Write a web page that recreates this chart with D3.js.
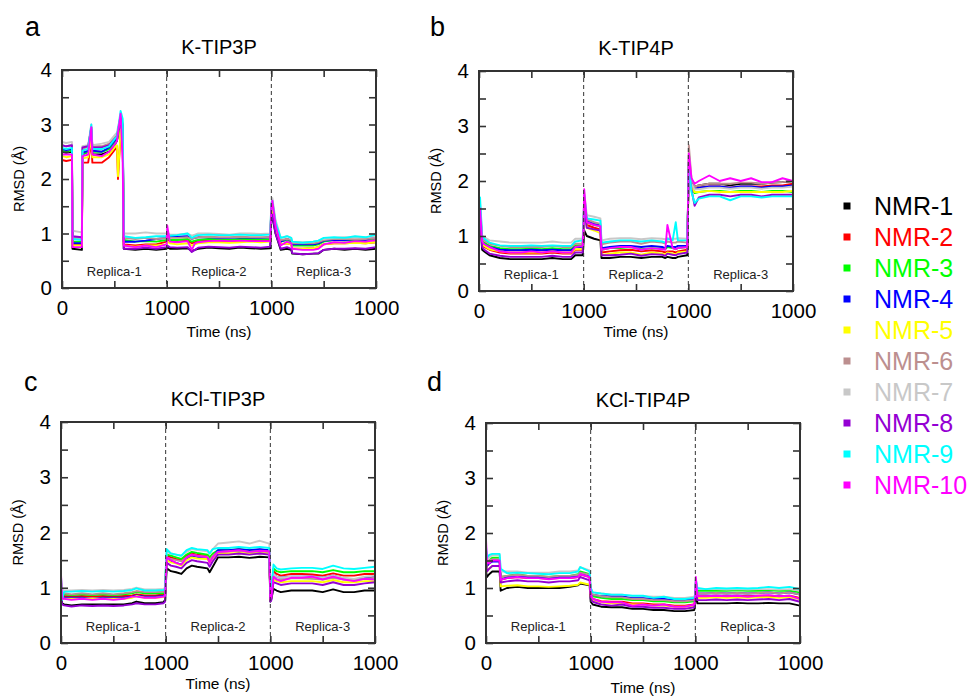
<!DOCTYPE html>
<html>
<head>
<meta charset="utf-8">
<script src="https://cdn.jsdelivr.net/npm/d3@7.9.0/dist/d3.min.js"></script>
<style>
  body { margin: 0; background: #fff; }
  svg { font-family: "Liberation Sans", Arial, sans-serif; }
</style>
</head>
<body>
<svg id="chart" width="971" height="696"></svg>
<script>
// Series names and xmgrace colours
const seriesNames = ['NMR-1', 'NMR-2', 'NMR-3', 'NMR-4', 'NMR-5', 'NMR-6', 'NMR-7', 'NMR-8', 'NMR-9', 'NMR-10'];
const seriesColors = ['#000000', '#ff0000', '#00ff00', '#0000ff', '#ffff00', '#bc8f8f', '#c8c8c8', '#9400d3', '#00ffff', '#ff00ff'];
const replicaLabels = ['Replica-1', 'Replica-2', 'Replica-3'];
// three 1000 ns replicas laid end to end
const xTickValues = [0, 500, 1000, 1500, 2000, 2500, 3000];
const xTickLabels = ['0', '', '1000', '', '1000', '', '1000'];
const yTickValues = [0, 0.5, 1, 1.5, 2, 2.5, 3, 3.5, 4];

// Panel a: K-TIP3P
const timeA = [0, 40, 95, 100, 190, 195, 250, 280, 290, 380, 450, 510, 525, 535, 560, 580, 590, 700, 800, 900,
  1000, 1005, 1030, 1100, 1200, 1240, 1270, 1300, 1400, 1500, 1600, 1700, 1800, 1900, 1990,
  2000, 2010, 2040, 2090, 2150, 2190, 2200, 2300, 2400, 2450, 2500, 2600, 2700, 2800, 2900, 3000];
const rmsdA = [
  [2.5, 2.48, 2.5, 0.72, 0.7, 2.45, 2.5, 2.85, 2.45, 2.45, 2.5, 2.65, 2.7, 2.8, 3.05, 2.95, 0.72, 0.7, 0.72, 0.7,
   0.72, 0.75, 0.72, 0.72, 0.73, 0.68, 0.7, 0.72, 0.74, 0.73, 0.72, 0.74, 0.73, 0.72, 0.73,
   1.35, 1.3, 1.0, 0.7, 0.72, 0.7, 0.63, 0.62, 0.63, 0.63, 0.7, 0.72, 0.7, 0.72, 0.7, 0.72],
  [2.35, 2.33, 2.35, 0.8, 0.8, 2.3, 2.3, 2.7, 2.3, 2.3, 2.4, 2.55, 2.6, 2.0, 2.85, 2.7, 0.8, 0.78, 0.8, 0.8,
   0.85, 0.9, 0.86, 0.85, 0.87, 0.82, 0.84, 0.86, 0.87, 0.86, 0.85, 0.87, 0.88, 0.87, 0.87,
   1.4, 1.45, 1.1, 0.8, 0.82, 0.8, 0.72, 0.72, 0.73, 0.75, 0.8, 0.82, 0.82, 0.83, 0.82, 0.84],
  [2.52, 2.5, 2.52, 0.85, 0.85, 2.45, 2.5, 2.85, 2.5, 2.5, 2.55, 2.7, 2.72, 2.8, 3.0, 2.9, 0.88, 0.85, 0.86, 0.85,
   0.88, 0.92, 0.88, 0.88, 0.9, 0.85, 0.87, 0.88, 0.9, 0.89, 0.88, 0.9, 0.9, 0.89, 0.9,
   1.45, 1.5, 1.15, 0.85, 0.88, 0.85, 0.78, 0.78, 0.78, 0.8, 0.85, 0.88, 0.87, 0.88, 0.87, 0.9],
  [2.55, 2.53, 2.55, 0.82, 0.82, 2.48, 2.52, 2.9, 2.52, 2.5, 2.58, 2.72, 2.75, 2.85, 3.05, 2.95, 0.85, 0.85, 0.87, 0.9,
   0.92, 0.95, 0.95, 0.94, 0.95, 0.9, 0.92, 0.93, 0.93, 0.92, 0.92, 0.93, 0.92, 0.92, 0.93,
   1.45, 1.5, 1.15, 0.85, 0.9, 0.87, 0.8, 0.8, 0.8, 0.82, 0.87, 0.88, 0.88, 0.9, 0.88, 0.95],
  [2.42, 2.4, 2.42, 0.78, 0.78, 2.38, 2.4, 2.75, 2.4, 2.4, 2.45, 2.6, 2.62, 2.05, 2.9, 2.8, 0.78, 0.76, 0.78, 0.78,
   0.8, 0.85, 0.82, 0.8, 0.82, 0.78, 0.8, 0.82, 0.84, 0.84, 0.83, 0.84, 0.85, 0.84, 0.85,
   1.4, 1.45, 1.1, 0.8, 0.82, 0.8, 0.72, 0.72, 0.73, 0.75, 0.8, 0.82, 0.82, 0.83, 0.82, 0.84],
  [2.62, 2.6, 2.62, 0.92, 0.92, 2.55, 2.6, 2.95, 2.6, 2.6, 2.65, 2.78, 2.8, 2.9, 3.1, 3.0, 0.92, 0.9, 0.92, 0.9,
   0.92, 0.96, 0.92, 0.92, 0.93, 0.9, 0.92, 0.93, 0.94, 0.93, 0.93, 0.94, 0.93, 0.93, 0.93,
   1.5, 1.55, 1.2, 0.88, 0.9, 0.88, 0.82, 0.82, 0.82, 0.84, 0.88, 0.9, 0.9, 0.9, 0.9, 0.92],
  [2.68, 2.66, 2.68, 1.05, 1.02, 2.6, 2.62, 3.0, 2.62, 2.65, 2.68, 2.82, 2.85, 2.95, 3.15, 3.05, 1.0, 1.0, 1.02, 1.0,
   1.0, 1.02, 0.98, 0.98, 1.0, 0.96, 0.98, 1.0, 1.0, 0.99, 0.98, 1.0, 1.0, 0.99, 1.0,
   1.55, 1.65, 1.25, 0.92, 0.95, 0.92, 0.85, 0.84, 0.85, 0.87, 0.9, 0.92, 0.93, 0.92, 0.93, 0.95],
  [2.62, 2.6, 2.62, 0.95, 0.93, 2.58, 2.6, 2.95, 2.58, 2.58, 2.62, 2.75, 2.78, 2.88, 3.15, 3.0, 0.72, 0.72, 0.74, 0.72,
   0.75, 0.78, 0.75, 0.74, 0.75, 0.66, 0.7, 0.74, 0.76, 0.75, 0.74, 0.76, 0.75, 0.74, 0.76,
   1.3, 1.35, 1.0, 0.72, 0.75, 0.72, 0.64, 0.62, 0.63, 0.64, 0.7, 0.72, 0.72, 0.73, 0.72, 0.75],
  [2.57, 2.55, 2.57, 0.9, 0.88, 2.52, 2.55, 3.0, 2.55, 2.55, 2.6, 2.75, 2.78, 2.9, 3.25, 3.1, 0.95, 0.92, 0.93, 0.95,
   0.95, 0.98, 0.96, 0.97, 1.0, 0.92, 0.95, 0.97, 0.98, 0.97, 0.97, 0.98, 0.97, 0.97, 0.98,
   1.55, 1.6, 1.2, 0.92, 0.95, 0.92, 0.85, 0.83, 0.85, 0.87, 0.92, 0.93, 0.92, 0.95, 0.93, 0.98],
  [2.45, 2.45, 2.45, 0.75, 0.75, 2.42, 2.45, 2.95, 2.45, 2.42, 2.5, 2.65, 2.7, 2.85, 3.2, 2.3, 0.78, 0.75, 0.78, 0.75,
   0.8, 1.15, 0.85, 0.84, 0.86, 0.7, 0.82, 0.84, 0.86, 0.87, 0.86, 0.87, 0.86, 0.86, 0.86,
   1.5, 1.6, 1.15, 0.78, 0.85, 0.82, 0.72, 0.7, 0.7, 0.72, 0.8, 0.84, 0.83, 0.86, 0.85, 0.88]
];

// Panel b: K-TIP4P
const timeB = [0, 10, 30, 50, 100, 200, 300, 400, 500, 600, 700, 800, 880, 920, 990,
  1000, 1005, 1030, 1100, 1160, 1170, 1250, 1350, 1450, 1550, 1650, 1750, 1780, 1800, 1850, 1880, 1900, 1990,
  2000, 2005, 2030, 2060, 2100, 2200, 2300, 2400, 2500, 2600, 2700, 2800, 2900, 3000];
const rmsdB = [
  [1.1, 1.3, 0.75, 0.72, 0.65, 0.6, 0.58, 0.58, 0.58, 0.58, 0.6, 0.58, 0.58, 0.65, 0.65,
   0.9, 1.1, 1.0, 0.95, 0.92, 0.6, 0.6, 0.62, 0.62, 0.6, 0.62, 0.62, 0.6, 0.62, 0.6, 0.6, 0.62, 0.65,
   1.9, 2.4, 2.0, 1.9, 1.92, 1.95, 1.95, 1.92, 1.95, 1.95, 1.95, 1.97, 1.98, 2.0],
  [1.4, 1.5, 0.85, 0.8, 0.75, 0.7, 0.68, 0.68, 0.68, 0.68, 0.7, 0.68, 0.68, 0.75, 0.75,
   1.2, 1.5, 1.2, 1.15, 1.12, 0.7, 0.72, 0.74, 0.75, 0.72, 0.74, 0.72, 0.7, 0.72, 0.72, 0.7, 0.72, 0.75,
   1.85, 2.3, 1.95, 1.85, 1.88, 1.9, 1.9, 1.88, 1.9, 1.9, 1.9, 1.92, 1.92, 1.95],
  [1.4, 1.5, 0.9, 0.88, 0.82, 0.78, 0.76, 0.76, 0.77, 0.76, 0.78, 0.76, 0.76, 0.83, 0.83,
   1.25, 1.6, 1.25, 1.2, 1.18, 0.75, 0.78, 0.78, 0.8, 0.76, 0.78, 0.77, 0.76, 0.8, 0.78, 0.76, 0.78, 0.8,
   1.85, 2.3, 1.9, 1.78, 1.8, 1.82, 1.82, 1.8, 1.82, 1.82, 1.8, 1.82, 1.82, 1.8],
  [1.35, 1.45, 0.88, 0.85, 0.8, 0.75, 0.74, 0.74, 0.75, 0.74, 0.75, 0.74, 0.74, 0.8, 0.8,
   1.3, 1.65, 1.28, 1.22, 1.2, 0.78, 0.8, 0.82, 0.82, 0.8, 0.82, 0.8, 0.78, 0.82, 0.8, 0.8, 0.82, 0.82,
   1.85, 2.35, 1.95, 1.85, 1.88, 1.9, 1.9, 1.88, 1.9, 1.9, 1.88, 1.9, 1.9, 1.92],
  [1.3, 1.45, 0.85, 0.82, 0.76, 0.72, 0.7, 0.7, 0.7, 0.7, 0.72, 0.7, 0.7, 0.76, 0.76,
   1.15, 1.5, 1.15, 1.1, 1.05, 0.65, 0.68, 0.7, 0.7, 0.66, 0.7, 0.68, 0.66, 0.7, 0.68, 0.66, 0.7, 0.72,
   1.8, 2.3, 1.9, 1.8, 1.8, 1.82, 1.8, 1.8, 1.8, 1.8, 1.8, 1.8, 1.8, 1.82],
  [1.45, 1.55, 0.95, 0.92, 0.86, 0.82, 0.8, 0.8, 0.8, 0.8, 0.82, 0.8, 0.8, 0.86, 0.86,
   1.3, 1.7, 1.3, 1.25, 1.22, 0.85, 0.88, 0.9, 0.9, 0.86, 0.9, 0.88, 0.86, 0.9, 0.88, 0.88, 0.9, 0.88,
   1.9, 2.65, 2.05, 1.9, 1.92, 1.95, 1.95, 1.95, 1.97, 1.97, 1.95, 1.97, 1.98, 2.0],
  [1.5, 1.6, 1.0, 0.98, 0.92, 0.9, 0.88, 0.88, 0.88, 0.88, 0.9, 0.88, 0.88, 0.95, 0.95,
   1.38, 1.8, 1.38, 1.35, 1.32, 0.92, 0.95, 0.96, 0.96, 0.94, 0.96, 0.95, 0.94, 0.96, 0.95, 0.95, 0.96, 0.95,
   1.85, 2.5, 1.95, 1.85, 1.85, 1.88, 1.88, 1.86, 1.88, 1.88, 1.86, 1.88, 1.88, 1.9],
  [1.2, 1.35, 0.8, 0.75, 0.68, 0.64, 0.62, 0.62, 0.62, 0.62, 0.64, 0.62, 0.62, 0.7, 0.7,
   1.1, 1.5, 1.15, 1.12, 1.1, 0.65, 0.65, 0.66, 0.68, 0.64, 0.67, 0.66, 0.64, 0.68, 0.66, 0.65, 0.67, 0.7,
   1.8, 2.2, 1.85, 1.55, 1.7, 1.75, 1.75, 1.72, 1.75, 1.75, 1.72, 1.75, 1.75, 1.75],
  [1.6, 1.7, 1.0, 0.95, 0.88, 0.83, 0.82, 0.82, 0.83, 0.82, 0.83, 0.82, 0.82, 0.9, 0.92,
   1.3, 1.75, 1.32, 1.3, 1.28, 0.88, 0.9, 0.92, 0.92, 0.9, 0.92, 0.9, 0.88, 0.95, 0.92, 1.25, 0.92, 0.92,
   1.85, 2.3, 1.8, 1.6, 1.68, 1.72, 1.72, 1.65, 1.72, 1.72, 1.7, 1.72, 1.72, 1.72],
  [1.45, 1.5, 0.9, 0.85, 0.8, 0.72, 0.7, 0.7, 0.72, 0.7, 0.72, 0.7, 0.7, 0.8, 0.82,
   1.25, 1.85, 1.25, 1.2, 1.18, 0.75, 0.78, 0.8, 0.8, 0.75, 0.78, 0.76, 0.75, 1.2, 0.78, 0.76, 0.78, 0.8,
   1.9, 2.5, 2.05, 1.95, 2.0, 2.1, 2.0, 2.05, 2.0, 2.05, 1.98, 1.98, 2.05, 2.0]
];

// Panel c: KCl-TIP3P
const timeC = [0, 10, 30, 100, 200, 300, 400, 500, 600, 680, 720, 800, 900, 980, 995,
  1000, 1010, 1050, 1100, 1150, 1200, 1250, 1300, 1400, 1420, 1450, 1500, 1600, 1700, 1800, 1900, 1990,
  2000, 2010, 2030, 2060, 2100, 2200, 2300, 2400, 2500, 2600, 2700, 2800, 2900, 3000];
const rmsdC = [
  [0.9, 0.72, 0.7, 0.68, 0.7, 0.7, 0.7, 0.7, 0.7, 0.72, 0.75, 0.72, 0.72, 0.74, 0.78,
   1.0, 1.35, 1.3, 1.28, 1.25, 1.35, 1.4, 1.38, 1.35, 1.28, 1.38, 1.55, 1.55, 1.56, 1.54, 1.56, 1.55,
   0.75, 0.8, 0.98, 0.95, 0.92, 0.95, 0.95, 0.95, 0.92, 0.97, 0.92, 0.92, 0.95, 0.95],
  [1.1, 0.88, 0.85, 0.84, 0.85, 0.84, 0.85, 0.84, 0.85, 0.86, 0.88, 0.86, 0.86, 0.88, 0.9,
   1.2, 1.58, 1.55, 1.52, 1.5, 1.58, 1.62, 1.6, 1.58, 1.52, 1.6, 1.65, 1.66, 1.67, 1.65, 1.66, 1.65,
   0.85, 0.9, 1.3, 1.25, 1.22, 1.25, 1.25, 1.24, 1.22, 1.26, 1.22, 1.22, 1.25, 1.25],
  [1.1, 0.9, 0.88, 0.87, 0.88, 0.87, 0.88, 0.87, 0.88, 0.9, 0.92, 0.9, 0.9, 0.9, 0.92,
   1.25, 1.6, 1.58, 1.55, 1.52, 1.6, 1.65, 1.63, 1.6, 1.55, 1.62, 1.68, 1.68, 1.7, 1.68, 1.69, 1.68,
   0.9, 0.95, 1.35, 1.3, 1.28, 1.3, 1.3, 1.3, 1.28, 1.32, 1.28, 1.28, 1.3, 1.3],
  [1.0, 0.85, 0.82, 0.82, 0.82, 0.8, 0.82, 0.82, 0.82, 0.84, 0.86, 0.84, 0.84, 0.85, 0.88,
   1.15, 1.5, 1.48, 1.45, 1.42, 1.52, 1.58, 1.56, 1.55, 1.48, 1.56, 1.68, 1.68, 1.7, 1.68, 1.7, 1.68,
   0.8, 0.85, 1.25, 1.2, 1.18, 1.2, 1.2, 1.2, 1.18, 1.22, 1.17, 1.15, 1.18, 1.2],
  [1.0, 0.82, 0.8, 0.8, 0.8, 0.8, 0.8, 0.8, 0.8, 0.82, 0.85, 0.82, 0.82, 0.83, 0.86,
   1.15, 1.5, 1.46, 1.44, 1.4, 1.5, 1.55, 1.53, 1.52, 1.45, 1.53, 1.62, 1.62, 1.63, 1.62, 1.63, 1.62,
   0.78, 0.82, 1.15, 1.12, 1.1, 1.12, 1.12, 1.12, 1.1, 1.14, 1.1, 1.1, 1.12, 1.12],
  [1.15, 0.92, 0.9, 0.88, 0.9, 0.88, 0.9, 0.88, 0.9, 0.92, 0.94, 0.92, 0.92, 0.93, 0.95,
   1.2, 1.55, 1.52, 1.5, 1.48, 1.55, 1.6, 1.58, 1.56, 1.5, 1.58, 1.65, 1.66, 1.67, 1.65, 1.66, 1.65,
   0.82, 0.88, 1.2, 1.15, 1.15, 1.17, 1.17, 1.16, 1.15, 1.18, 1.15, 1.14, 1.16, 1.18],
  [1.2, 0.97, 0.95, 0.95, 0.96, 0.95, 0.96, 0.95, 0.96, 0.98, 1.0, 0.97, 0.97, 0.98, 1.0,
   1.3, 1.65, 1.62, 1.6, 1.58, 1.65, 1.7, 1.68, 1.66, 1.62, 1.7, 1.8, 1.82, 1.84, 1.8, 1.85, 1.8,
   0.85, 0.9, 1.25, 1.2, 1.18, 1.2, 1.2, 1.2, 1.18, 1.22, 1.18, 1.16, 1.2, 1.22],
  [0.85, 0.7, 0.68, 0.66, 0.68, 0.67, 0.68, 0.67, 0.68, 0.7, 0.72, 0.7, 0.7, 0.72, 0.75,
   1.1, 1.45, 1.4, 1.38, 1.35, 1.45, 1.5, 1.48, 1.45, 1.38, 1.48, 1.6, 1.6, 1.62, 1.6, 1.62, 1.6,
   0.75, 0.78, 1.1, 1.08, 1.05, 1.08, 1.08, 1.08, 1.05, 1.1, 1.05, 1.05, 1.08, 1.1],
  [1.2, 0.78, 0.93, 0.93, 0.94, 0.93, 0.94, 0.93, 0.94, 0.96, 0.99, 0.95, 0.95, 0.96, 0.98,
   1.3, 1.7, 1.62, 1.6, 1.58, 1.68, 1.72, 1.7, 1.68, 1.62, 1.7, 1.72, 1.72, 1.74, 1.72, 1.74, 1.72,
   0.9, 0.95, 1.42, 1.35, 1.33, 1.35, 1.36, 1.36, 1.34, 1.4, 1.35, 1.34, 1.36, 1.38],
  [1.25, 0.8, 0.8, 0.78, 0.8, 0.78, 0.8, 0.78, 0.8, 0.84, 0.84, 0.82, 0.82, 0.84, 0.86,
   1.15, 1.55, 1.5, 1.45, 1.42, 1.55, 1.6, 1.58, 1.55, 1.45, 1.55, 1.65, 1.66, 1.68, 1.65, 1.67, 1.66,
   0.8, 0.85, 1.2, 1.15, 1.12, 1.18, 1.18, 1.2, 1.15, 1.2, 1.15, 1.12, 1.16, 1.15]
];

// Panel d: KCl-TIP4P
const timeD = [0, 10, 30, 60, 110, 130, 140, 200, 300, 400, 500, 600, 700, 800, 880, 900, 990,
  1000, 1020, 1100, 1200, 1300, 1400, 1500, 1600, 1700, 1800, 1900, 1990,
  2000, 2005, 2020, 2100, 2200, 2300, 2400, 2500, 2600, 2700, 2800, 2900, 3000];
const rmsdD = [
  [1.3, 1.2, 1.25, 1.3, 1.3, 1.3, 0.95, 1.0, 1.02, 1.0, 1.0, 1.0, 1.0, 1.02, 1.05, 1.08, 1.05,
   0.75, 0.7, 0.66, 0.65, 0.65, 0.62, 0.62, 0.6, 0.6, 0.58, 0.58, 0.6,
   0.75, 1.0, 0.72, 0.72, 0.72, 0.72, 0.73, 0.72, 0.72, 0.73, 0.72, 0.72, 0.68],
  [1.6, 1.4, 1.45, 1.5, 1.5, 1.5, 1.15, 1.18, 1.2, 1.18, 1.18, 1.17, 1.18, 1.18, 1.2, 1.25, 1.2,
   0.85, 0.8, 0.76, 0.75, 0.75, 0.72, 0.72, 0.7, 0.7, 0.68, 0.68, 0.7,
   0.82, 1.05, 0.85, 0.85, 0.86, 0.85, 0.86, 0.85, 0.86, 0.86, 0.85, 0.86, 0.82],
  [1.7, 1.5, 1.5, 1.55, 1.55, 1.55, 1.2, 1.22, 1.25, 1.22, 1.22, 1.2, 1.22, 1.22, 1.25, 1.3, 1.25,
   0.9, 0.85, 0.82, 0.8, 0.8, 0.78, 0.78, 0.76, 0.76, 0.74, 0.74, 0.76,
   0.85, 1.1, 0.95, 0.95, 0.95, 0.95, 0.96, 0.95, 0.95, 0.96, 0.95, 0.95, 0.92],
  [1.6, 1.4, 1.45, 1.48, 1.48, 1.48, 1.15, 1.2, 1.22, 1.2, 1.2, 1.18, 1.2, 1.2, 1.22, 1.28, 1.22,
   0.95, 0.88, 0.85, 0.85, 0.85, 0.82, 0.82, 0.8, 0.8, 0.78, 0.78, 0.8,
   0.85, 1.1, 0.9, 0.9, 0.91, 0.9, 0.91, 0.9, 0.91, 0.92, 0.9, 0.92, 0.88],
  [1.5, 1.3, 1.35, 1.4, 1.4, 1.4, 1.03, 1.04, 1.05, 1.03, 1.03, 1.02, 1.03, 1.04, 1.06, 1.1, 1.06,
   0.85, 0.78, 0.74, 0.72, 0.72, 0.7, 0.7, 0.68, 0.68, 0.66, 0.66, 0.68,
   0.8, 1.05, 0.82, 0.82, 0.83, 0.82, 0.83, 0.82, 0.83, 0.83, 0.82, 0.83, 0.8],
  [1.65, 1.45, 1.5, 1.52, 1.52, 1.52, 1.2, 1.22, 1.24, 1.22, 1.22, 1.2, 1.22, 1.22, 1.24, 1.28, 1.24,
   0.95, 0.88, 0.85, 0.83, 0.83, 0.8, 0.8, 0.78, 0.78, 0.76, 0.76, 0.78,
   0.85, 1.1, 0.9, 0.9, 0.91, 0.9, 0.91, 0.9, 0.91, 0.92, 0.9, 0.92, 0.88],
  [1.7, 1.5, 1.55, 1.6, 1.6, 1.6, 1.3, 1.3, 1.3, 1.28, 1.28, 1.28, 1.3, 1.3, 1.32, 1.38, 1.32,
   1.0, 0.92, 0.9, 0.88, 0.88, 0.85, 0.85, 0.84, 0.84, 0.82, 0.82, 0.84,
   0.9, 1.15, 0.98, 0.98, 0.98, 0.97, 0.98, 0.97, 0.98, 0.98, 0.97, 0.98, 0.95],
  [1.5, 1.3, 1.35, 1.4, 1.4, 1.4, 1.1, 1.12, 1.14, 1.12, 1.12, 1.1, 1.12, 1.12, 1.14, 1.2, 1.14,
   0.8, 0.75, 0.7, 0.68, 0.7, 0.66, 0.66, 0.64, 0.64, 0.62, 0.62, 0.65,
   0.78, 1.0, 0.78, 0.78, 0.79, 0.78, 0.79, 0.78, 0.79, 0.8, 0.78, 0.8, 0.75],
  [1.75, 1.55, 1.6, 1.62, 1.62, 1.62, 1.35, 1.27, 1.28, 1.27, 1.26, 1.25, 1.27, 1.27, 1.3, 1.38, 1.3,
   1.0, 0.92, 0.9, 0.88, 0.88, 0.86, 0.86, 0.82, 0.84, 0.8, 0.8, 0.82,
   0.9, 1.15, 1.0, 0.98, 1.0, 0.99, 1.0, 0.99, 1.0, 1.02, 1.0, 1.02, 0.98],
  [1.9, 1.45, 1.45, 1.5, 1.5, 1.5, 1.15, 1.18, 1.2, 1.18, 1.18, 1.16, 1.18, 1.18, 1.2, 1.25, 1.2,
   0.9, 0.8, 0.75, 0.74, 0.74, 0.68, 0.7, 0.68, 0.7, 0.66, 0.66, 0.7,
   0.85, 1.2, 0.85, 0.85, 0.86, 0.85, 0.86, 0.84, 0.86, 0.87, 0.85, 0.86, 0.8]
];

// Layout of the four panels (plot box in px)
const panels = [
  { letter: 'a', title: 'K-TIP3P', times: timeA, values: rmsdA, x0: 62, x1: 376, y0: 70, y1: 288, letterX: 25, letterY: 36, xLabelY: 337 },
  { letter: 'b', title: 'K-TIP4P', times: timeB, values: rmsdB, x0: 479, x1: 793, y0: 71, y1: 291, letterX: 430, letterY: 36, xLabelY: 337 },
  { letter: 'c', title: 'KCl-TIP3P', times: timeC, values: rmsdC, x0: 61, x1: 375, y0: 422, y1: 643, letterX: 24, letterY: 391, xLabelY: 689 },
  { letter: 'd', title: 'KCl-TIP4P', times: timeD, values: rmsdD, x0: 486, x1: 800, y0: 423, y1: 643, letterX: 427, letterY: 391, xLabelY: 693 }
];

const svg = d3.select('#chart');
const axisColor = '#333';

panels.forEach((p, pi) => {
  const x = d3.scaleLinear().domain([0, 3000]).range([p.x0, p.x1]);
  const y = d3.scaleLinear().domain([0, 4]).range([p.y1, p.y0]);
  const g = svg.append('g');

  // clip for the traces
  g.append('clipPath').attr('id', 'clip' + pi)
    .append('rect').attr('x', p.x0).attr('y', p.y0)
    .attr('width', p.x1 - p.x0).attr('height', p.y1 - p.y0);

  // traces
  const line = d3.line()
    .x((d, i) => x(p.times[i]))
    .y((d) => y(d));

  g.append('g').attr('clip-path', `url(#clip${pi})`)
    .selectAll('path')
    .data(p.values)
    .join('path')
    .attr('d', (d) => line(d))
    .attr('fill', 'none')
    .attr('stroke', (d, i) => seriesColors[i])
    .attr('stroke-width', 1.9)
    .attr('stroke-linejoin', 'round');

  // replica separators
  g.selectAll('line.sep')
    .data([1000, 2000])
    .join('line')
    .attr('class', 'sep')
    .attr('x1', (d) => x(d)).attr('x2', (d) => x(d))
    .attr('y1', p.y0).attr('y2', p.y1)
    .attr('stroke', axisColor)
    .attr('stroke-width', 1)
    .attr('stroke-dasharray', '4,3');

  // axes, ticks pointing inward on all four sides
  const bottom = g.append('g')
    .attr('transform', `translate(0,${p.y1})`)
    .call(d3.axisBottom(x).tickValues(xTickValues)
      .tickFormat((d, i) => xTickLabels[i]).tickSize(-7).tickPadding(12));
  const top = g.append('g')
    .attr('transform', `translate(0,${p.y0})`)
    .call(d3.axisTop(x).tickValues(xTickValues).tickFormat('').tickSize(-7));
  const left = g.append('g')
    .attr('transform', `translate(${p.x0},0)`)
    .call(d3.axisLeft(y).tickValues(yTickValues)
      .tickFormat((d) => (Number.isInteger(d) ? d : '')).tickSize(-7).tickPadding(10));
  const right = g.append('g')
    .attr('transform', `translate(${p.x1},0)`)
    .call(d3.axisRight(y).tickValues(yTickValues).tickFormat('').tickSize(-7));

  [bottom, top, left, right].forEach((ax) => {
    ax.select('.domain').remove();
    ax.selectAll('.tick line').attr('stroke', axisColor).attr('stroke-width', 1.6);
    ax.selectAll('.tick text').attr('fill', '#000').attr('font-size', 20.5)
      .attr('font-family', '"Liberation Sans", Arial, sans-serif');
  });

  // frame
  g.append('rect')
    .attr('x', p.x0).attr('y', p.y0)
    .attr('width', p.x1 - p.x0).attr('height', p.y1 - p.y0)
    .attr('fill', 'none')
    .attr('stroke', axisColor)
    .attr('stroke-width', 2);

  // replica names
  g.selectAll('text.rep')
    .data(replicaLabels)
    .join('text')
    .attr('class', 'rep')
    .attr('x', (d, i) => x(500 + i * 1000))
    .attr('y', p.y1 - 12)
    .attr('text-anchor', 'middle')
    .attr('font-size', 13)
    .attr('fill', '#222')
    .text((d) => d);

  // titles and axis labels
  g.append('text')
    .attr('x', (p.x0 + p.x1) / 2).attr('y', p.y0 - 16)
    .attr('text-anchor', 'middle').attr('font-size', 20)
    .text(p.title);

  g.append('text')
    .attr('x', p.letterX).attr('y', p.letterY)
    .attr('font-size', 27)
    .text(p.letter);

  g.append('text')
    .attr('x', (p.x0 + p.x1) / 2).attr('y', p.xLabelY)
    .attr('text-anchor', 'middle').attr('font-size', 15.5)
    .text('Time (ns)');

  g.append('text')
    .attr('transform', `translate(${p.x0 - 38},${(p.y0 + p.y1) / 2}) rotate(-90)`)
    .attr('text-anchor', 'middle').attr('font-size', 14.5)
    .text('RMSD (Å)');
});

// legend
const legend = svg.append('g').attr('transform', 'translate(847,206)');
const rows = legend.selectAll('g')
  .data(seriesNames)
  .join('g')
  .attr('transform', (d, i) => `translate(0,${i * 31})`);

rows.append('rect')
  .attr('x', -3.5).attr('y', -3.5)
  .attr('width', 7).attr('height', 7)
  .attr('fill', (d, i) => seriesColors[i]);

rows.append('text')
  .attr('x', 27).attr('y', 8.5)
  .attr('font-size', 25)
  .attr('fill', (d, i) => seriesColors[i])
  .text((d) => d);
</script>
</body>
</html>
